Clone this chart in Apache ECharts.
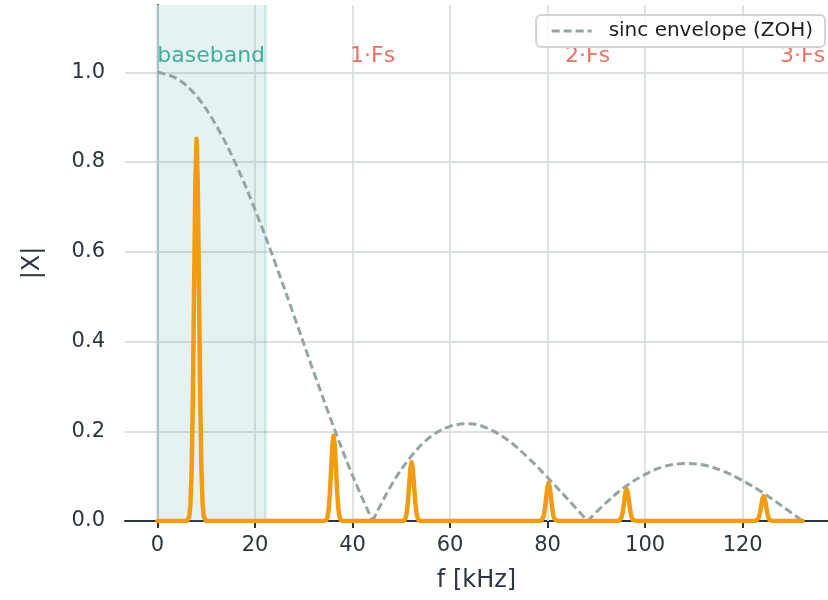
<!DOCTYPE html>
<html>
<head>
<meta charset="utf-8">
<script src="https://cdn.jsdelivr.net/npm/echarts@6/dist/echarts.min.js"></script>
<style>
  html, body { margin: 0; padding: 0; background: #ffffff; }
  #chart { width: 828px; height: 600px; }
</style>
</head>
<body>
<div id="chart"></div>
<script>
// Axis ticks
const xTicks = [0, 20, 40, 60, 80, 100, 120];
const yTicks = [0.0, 0.2, 0.4, 0.6, 0.8, 1.0];

// Sampling rate and baseband edge (kHz)
const fs = 44.1;
const basebandEdge = 22.05;

// Sinc envelope of the zero-order hold, one array per lobe: [f kHz, |X|]
const envelopeLobe1 = [[0, 1.0], [4, 0.986], [8, 0.947], [12, 0.882], [16, 0.797], [20, 0.694],
  [24, 0.579], [28, 0.457], [32, 0.333], [36, 0.213], [40, 0.101], [44.1, 0]];
const envelopeLobe2 = [[44.1, 0], [48, 0.081], [52, 0.144], [56, 0.188], [60, 0.211], [64, 0.217],
  [68, 0.205], [72, 0.179], [76, 0.141], [80, 0.097], [84, 0.050], [88.2, 0]];
const envelopeLobe3 = [[88.2, 0], [92, 0.041], [96, 0.077], [100, 0.104], [104, 0.122], [108, 0.128],
  [112, 0.125], [116, 0.111], [120, 0.090], [124, 0.064], [128, 0.034], [132.3, 0]];

// Spectral lines: the 8 kHz tone and its images around 1·Fs, 2·Fs, 3·Fs
const toneBase = [[6, 0], [6.5, 0.009], [6.75, 0.037], [7, 0.115], [7.25, 0.277], [7.5, 0.517], [7.75, 0.751],
  [8, 0.852], [8.25, 0.751], [8.5, 0.517], [8.75, 0.277], [9, 0.115], [9.25, 0.037], [9.5, 0.009], [10, 0]];
const image1Lower = [[34.1, 0], [34.6, 0.002], [34.85, 0.008], [35.1, 0.026], [35.35, 0.062], [35.6, 0.115], [35.85, 0.168],
  [36.1, 0.190], [36.35, 0.168], [36.6, 0.115], [36.85, 0.062], [37.1, 0.026], [37.35, 0.008], [37.6, 0.002], [38.1, 0]];
const image1Upper = [[50.1, 0], [50.6, 0.001], [50.85, 0.006], [51.1, 0.018], [51.35, 0.043], [51.6, 0.080], [51.85, 0.116],
  [52.1, 0.131], [52.35, 0.116], [52.6, 0.080], [52.85, 0.043], [53.1, 0.018], [53.35, 0.006], [53.6, 0.001], [54.1, 0]];
const image2Lower = [[78.2, 0], [78.7, 0.001], [78.95, 0.004], [79.2, 0.011], [79.45, 0.028], [79.7, 0.052], [79.95, 0.075],
  [80.2, 0.085], [80.45, 0.075], [80.7, 0.052], [80.95, 0.028], [81.2, 0.011], [81.45, 0.004], [81.7, 0.001], [82.2, 0]];
const image2Upper = [[94.2, 0], [94.7, 0.001], [94.95, 0.003], [95.2, 0.010], [95.45, 0.023], [95.7, 0.043], [95.95, 0.063],
  [96.2, 0.071], [96.45, 0.063], [96.7, 0.043], [96.95, 0.023], [97.2, 0.010], [97.45, 0.003], [97.7, 0.001], [98.2, 0]];
const image3Lower = [[122.3, 0], [122.8, 0.001], [123.05, 0.002], [123.3, 0.007], [123.55, 0.018], [123.8, 0.033], [124.05, 0.049],
  [124.3, 0.055], [124.55, 0.049], [124.8, 0.033], [125.05, 0.018], [125.3, 0.007], [125.55, 0.002], [125.8, 0.001], [126.3, 0]];
const spectrumStart = [[0, 0]];
const spectrumEnd = [[132.3, 0]];

// Text annotations
const basebandLabel = 'baseband';
const basebandLabelAt = [11.0, 1.036];
const imageLabels = ['1·Fs', '2·Fs', '3·Fs'];
const imageLabelFreqs = [44.1, 88.2, 132.3];
const imageLabelY = 1.036;

const legendName = 'sinc envelope (ZOH)';

const FONT = 'DejaVu Sans';
const INK = '#2c3440';

const envelopeData = [...envelopeLobe1, [44.1, '-'], ...envelopeLobe2, [88.2, '-'], ...envelopeLobe3];
const spectrumData = [...spectrumStart, ...toneBase, ...image1Lower, ...image1Upper,
  ...image2Lower, ...image2Upper, ...image3Lower, ...spectrumEnd];

const chart = echarts.init(document.getElementById('chart'), null, { renderer: 'canvas' });

chart.setOption({
  animation: false,
  backgroundColor: '#ffffff',
  textStyle: { fontFamily: FONT },
  grid: { left: 125, right: 0, top: 5, bottom: 79, containLabel: false },
  legend: {
    data: [legendName],
    right: 3, top: 15, z: 20,
    orient: 'horizontal',
    itemWidth: 40, itemHeight: 14,
    padding: [6, 12, 6, 14],
    backgroundColor: 'rgba(255,255,255,0.85)',
    borderColor: '#d0d4d4', borderWidth: 2, borderRadius: 5,
    itemStyle: { opacity: 0 },
    lineStyle: { width: 3 },
    textStyle: { fontFamily: FONT, fontSize: 20, color: '#1e1e1e', padding: [0, 0, 0, 12] }
  },
  xAxis: {
    type: 'value',
    min: -6.67, max: 137.5,
    name: 'f [kHz]',
    nameLocation: 'middle',
    nameGap: 48,
    nameTextStyle: { fontFamily: FONT, fontSize: 24, color: INK },
    axisLine: { show: true, lineStyle: { color: INK, width: 2 } },
    axisTick: { show: true, length: 7, lineStyle: { color: INK, width: 2 }, customValues: xTicks },
    axisLabel: { fontFamily: FONT, fontSize: 21, color: INK, margin: 14, customValues: xTicks,
      formatter: v => String(v) },
    splitLine: { show: false }
  },
  yAxis: {
    type: 'value',
    min: 0, max: 1.15,
    name: '|X|',
    nameLocation: 'middle',
    nameGap: 80,
    nameRotate: 90,
    nameTextStyle: { fontFamily: FONT, fontSize: 24, color: INK },
    axisLine: { show: true, lineStyle: { color: INK, width: 2 } },
    axisTick: { show: true, length: 7, lineStyle: { color: INK, width: 2 }, customValues: yTicks },
    axisLabel: { fontFamily: FONT, fontSize: 21, color: INK, margin: 20, customValues: yTicks,
      formatter: v => v.toFixed(1) },
    splitLine: { show: false }
  },
  series: [
    {
      // grid lines
      type: 'line', name: 'grid', data: [], z: 1, silent: true,
      markLine: {
        z: 1,
        silent: true, symbol: ['none', 'none'], animation: false,
        label: { show: false },
        lineStyle: { color: '#dbe1e1', width: 1.8, type: 'solid' },
        data: [...xTicks.map(v => ({ xAxis: v })), ...yTicks.slice(1).map(v => ({ yAxis: v }))]
      }
    },
    {
      // shaded baseband region with soft edges
      type: 'line', name: 'band', data: [], z: 2, silent: true,
      markArea: {
        z: 2,
        silent: true,
        itemStyle: { color: 'rgba(100,170,165,0.16)', borderWidth: 0 },
        data: [[{ xAxis: 0 }, { xAxis: basebandEdge }]]
      },
      markLine: {
        z: 2,
        silent: true, symbol: ['none', 'none'], animation: false,
        label: { show: false },
        lineStyle: { color: 'rgba(100,170,165,0.22)', width: 3, type: 'solid' },
        data: [{ xAxis: 0 }, { xAxis: basebandEdge }]
      }
    },
    {
      type: 'line', name: legendName, data: envelopeData, z: 3,
      showSymbol: false, symbol: 'none', smooth: 0.35, connectNulls: false,
      lineStyle: { color: '#95a5a6', width: 3, type: [8, 4] },
      itemStyle: { color: '#95a5a6' }
    },
    {
      type: 'line', name: 'spectrum', data: spectrumData, z: 4,
      showSymbol: false, symbol: 'none', smooth: false,
      lineStyle: { color: '#f39c12', width: 4.5, join: 'round', cap: 'round' },
      itemStyle: { color: '#f39c12' }
    },
    {
      type: 'scatter', name: 'baseband-label', z: 5, silent: true,
      symbolSize: 0,
      data: [[basebandLabelAt[0], basebandLabelAt[1], basebandLabel]],
      label: { show: true, position: 'inside', formatter: p => p.value[2],
        fontFamily: FONT, fontSize: 22, color: '#16a085' }
    },
    {
      type: 'scatter', name: 'image-labels', z: 5, silent: true,
      symbolSize: 0,
      data: imageLabels.map((t, i) => [imageLabelFreqs[i], imageLabelY, t]),
      label: { show: true, position: 'inside', formatter: p => p.value[2],
        fontFamily: FONT, fontSize: 22, color: '#e74c3c' }
    }
  ]
});
</script>
</body>
</html>
